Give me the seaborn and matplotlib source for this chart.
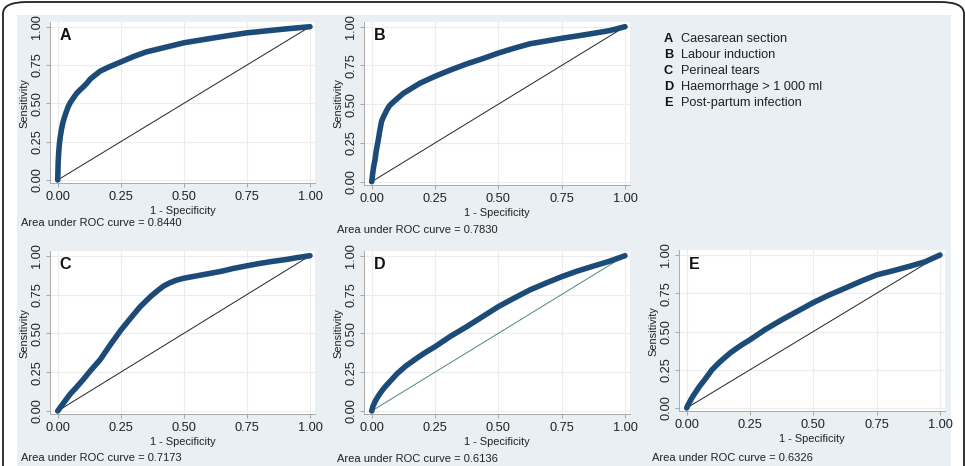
import numpy as np
import pandas as pd
import seaborn as sns
import matplotlib
matplotlib.use('Agg')
import matplotlib.pyplot as plt
from matplotlib.patches import FancyBboxPatch, Rectangle

sns.set_style("white")
plt.rcParams['font.family'] = ['Liberation Sans', 'DejaVu Sans']

# Datos (1 - especificidad, sensibilidad)
fpr_a = [0, 0.002, 0.004, 0.007, 0.01, 0.015, 0.02, 0.025, 0.033, 0.042, 0.05, 0.06, 0.075, 0.09, 0.1,
         0.115, 0.13, 0.168, 0.2, 0.25, 0.3, 0.35, 0.4, 0.5, 0.6, 0.65, 0.75, 0.8, 0.9, 1.0]
tpr_a = [0, 0.12, 0.18, 0.24, 0.28, 0.33, 0.37, 0.40, 0.44, 0.48, 0.505, 0.53, 0.565, 0.59, 0.605,
         0.63, 0.66, 0.71, 0.735, 0.77, 0.805, 0.835, 0.855, 0.895, 0.922, 0.935, 0.96, 0.968, 0.985, 1.0]

fpr_b = [0, 0.004, 0.008, 0.013, 0.018, 0.026, 0.032, 0.039, 0.047, 0.059, 0.07, 0.086, 0.1, 0.125, 0.15,
         0.19, 0.25, 0.31, 0.375, 0.44, 0.5, 0.56, 0.625, 0.69, 0.75, 0.81, 0.875, 0.94, 1.0]
tpr_b = [0, 0.054, 0.1, 0.14, 0.2, 0.27, 0.33, 0.39, 0.42, 0.46, 0.49, 0.515, 0.535, 0.57, 0.595,
         0.635, 0.68, 0.72, 0.76, 0.795, 0.83, 0.86, 0.89, 0.908, 0.925, 0.94, 0.957, 0.975, 1.0]

fpr_c = [0, 0.036, 0.05, 0.07, 0.1, 0.13, 0.168, 0.21, 0.25, 0.29, 0.326, 0.37, 0.4, 0.42, 0.445,
         0.47, 0.5, 0.55, 0.6, 0.65, 0.696, 0.75, 0.8, 0.85, 0.908, 0.95, 1.0]
tpr_c = [0, 0.08, 0.11, 0.145, 0.2, 0.26, 0.33, 0.43, 0.52, 0.6, 0.67, 0.74, 0.78, 0.805, 0.826,
         0.842, 0.855, 0.87, 0.885, 0.9, 0.918, 0.935, 0.95, 0.963, 0.976, 0.988, 1.0]

fpr_d = [0, 0.005, 0.013, 0.02, 0.033, 0.045, 0.059, 0.075, 0.1, 0.135, 0.178, 0.21, 0.25, 0.31,
         0.375, 0.44, 0.5, 0.56, 0.625, 0.69, 0.75, 0.81, 0.875, 0.94, 1.0]
tpr_d = [0, 0.03, 0.06, 0.08, 0.114, 0.14, 0.167, 0.195, 0.24, 0.29, 0.34, 0.375, 0.414, 0.48,
         0.543, 0.61, 0.672, 0.725, 0.78, 0.825, 0.865, 0.9, 0.933, 0.965, 1.0]

fpr_e = [0, 0.005, 0.013, 0.02, 0.033, 0.05, 0.066, 0.08, 0.1, 0.13, 0.171, 0.21, 0.25, 0.31,
         0.375, 0.44, 0.5, 0.56, 0.625, 0.69, 0.75, 0.81, 0.875, 0.94, 1.0]
tpr_e = [0, 0.02, 0.043, 0.065, 0.098, 0.14, 0.174, 0.205, 0.25, 0.3, 0.359, 0.405, 0.446, 0.513,
         0.576, 0.635, 0.689, 0.737, 0.783, 0.83, 0.87, 0.895, 0.924, 0.955, 1.0]

letras = ['A', 'B', 'C', 'D', 'E']
auc = ['0.8440', '0.7830', '0.7173', '0.6136', '0.6326']
descripciones = ['Caesarean section', 'Labour induction', 'Perineal tears',
                 'Haemorrhage > 1 000 ml', 'Post-partum infection']
ticks = [0, 0.25, 0.5, 0.75, 1.0]
tick_labels = ['0.00', '0.25', '0.50', '0.75', '1.00']

W, H = 965, 466
fig = plt.figure(figsize=(W / 100, H / 100), dpi=100)
fig.patch.set_facecolor('white')

# Marco redondeado y fondo gris azulado
fig.add_artist(Rectangle((17 / W, 0), (951 - 17) / W, (H - 15) / H, transform=fig.transFigure,
                         facecolor='#e9eff2', edgecolor='none', zorder=0))
fig.add_artist(FancyBboxPatch((3 / W, -0.2), (964 - 3) / W, (H - 2) / H + 0.2,
                              boxstyle="round,pad=0,rounding_size=0.025",
                              transform=fig.transFigure, facecolor='none',
                              edgecolor='#222222', linewidth=1.3, zorder=1))

# Posición de cada panel en píxeles: x de 0 y 1, y de 0 y 1, texto del área
layout = {
    'A': (57.7, 310, 180, 26.7, (21, 223)),
    'B': (371.7, 625, 181.7, 26.7, (337, 230)),
    'C': (57.7, 310, 411, 255.7, (21, 458)),
    'D': (371.7, 625, 411, 255.7, (337, 459)),
    'E': (686.7, 940, 408, 255, (652, 458)),
}
curvas = {'A': (fpr_a, tpr_a), 'B': (fpr_b, tpr_b), 'C': (fpr_c, tpr_c),
          'D': (fpr_d, tpr_d), 'E': (fpr_e, tpr_e)}

xlo, xhi = -0.03, 1.02
ylo, yhi = -0.02, 1.03
azul = '#1d4b77'

for letra, valor in zip(letras, auc):
    x0, x1, y0, y1, (tx, ty) = layout[letra]
    ux = x1 - x0
    uy = y0 - y1
    left = x0 + xlo * ux
    right = x0 + xhi * ux
    bottom = y0 - ylo * uy
    top = y0 - yhi * uy
    ax = fig.add_axes([left / W, 1 - bottom / H, (right - left) / W, (bottom - top) / H])
    ax.set_facecolor('white')

    fx, fy = curvas[letra]
    df = pd.DataFrame({'fpr': fx, 'tpr': fy})
    diag_color = '#4f8a6a' if letra == 'D' else '#222222'
    sns.lineplot(x=[0, 1], y=[0, 1], ax=ax, color=diag_color, linewidth=0.7)
    sns.lineplot(data=df, x='fpr', y='tpr', ax=ax, color=azul, linewidth=4.0,
                 estimator=None, solid_capstyle='round', solid_joinstyle='round')

    ax.set_xlim(xlo, xhi)
    ax.set_ylim(ylo, yhi)
    ax.set_xticks(ticks)
    ax.set_yticks(ticks)
    ax.set_xticklabels(tick_labels, fontsize=9.2, color='#222222')
    ax.set_yticklabels(tick_labels, fontsize=9.2, color='#222222', rotation=90, va='center')
    ax.grid(True, color='#ececec', linewidth=0.8)
    ax.tick_params(axis='both', length=3, width=0.6, color='#999999', pad=2, left=True, bottom=True)
    ax.tick_params(axis='x', pad=3)
    for s in ['top', 'right']:
        ax.spines[s].set_visible(False)
    for s in ['left', 'bottom']:
        ax.spines[s].set_color('#aaaaaa')
        ax.spines[s].set_linewidth(0.7)
    ax.set_xlabel('1 - Specificity', fontsize=7.9, color='#222222', labelpad=2)
    ax.set_ylabel('Sensitivity', fontsize=7.9, color='#222222', labelpad=1)
    ax.text(0.035, 0.915, letra, transform=ax.transAxes, fontsize=11.5, fontweight='bold',
            color='#111111', va='center', ha='left')
    fig.text(tx / W, 1 - ty / H, 'Area under ROC curve = ' + valor, fontsize=8.0,
             color='#222222', va='center', ha='left')

# Leyenda de los paneles
for i, (letra, desc) in enumerate(zip(letras, descripciones)):
    yy = 39 + i * 16
    fig.text(664 / W, 1 - yy / H, letra, fontsize=9.2, fontweight='bold', color='#111111',
             va='center', ha='left')
    fig.text(681 / W, 1 - yy / H, desc, fontsize=9.2, color='#222222', va='center', ha='left')

plt.savefig('out.png', dpi=100)
